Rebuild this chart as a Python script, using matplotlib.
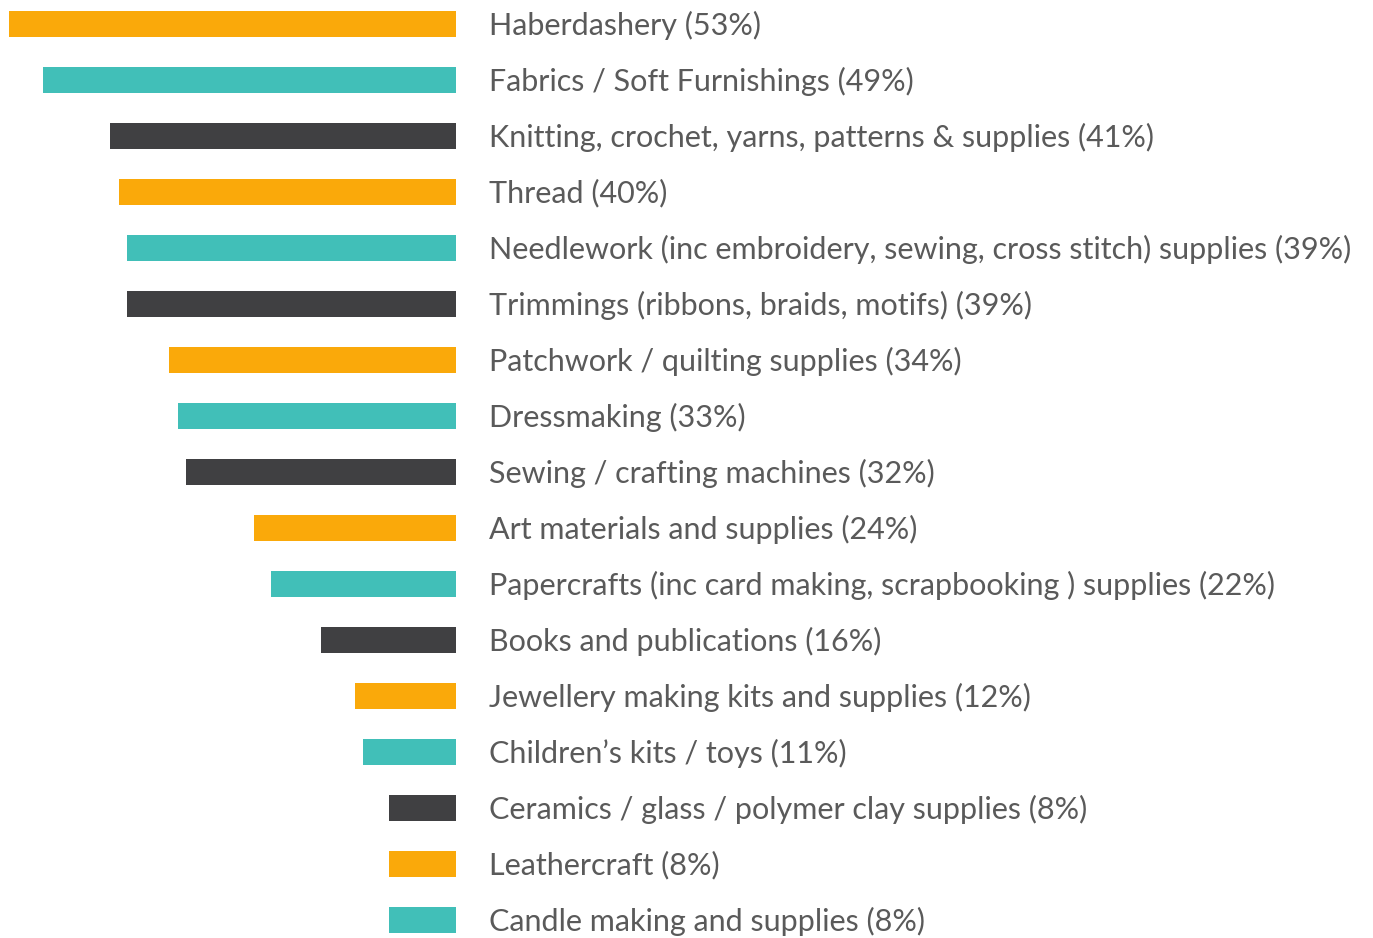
import matplotlib.pyplot as plt

# categories top to bottom with their share (%)
labels = [
    "Haberdashery",
    "Fabrics / Soft Furnishings",
    "Knitting, crochet, yarns, patterns & supplies",
    "Thread",
    "Needlework (inc embroidery, sewing, cross stitch) supplies",
    "Trimmings (ribbons, braids, motifs)",
    "Patchwork / quilting supplies",
    "Dressmaking",
    "Sewing / crafting machines",
    "Art materials and supplies",
    "Papercrafts (inc card making, scrapbooking ) supplies",
    "Books and publications",
    "Jewellery making kits and supplies",
    "Children\u2019s kits / toys",
    "Ceramics / glass / polymer clay supplies",
    "Leathercraft",
    "Candle making and supplies",
]
values = [53, 49, 41, 40, 39, 39, 34, 33, 32, 24, 22, 16, 12, 11, 8, 8, 8]

palette = ["#FAA90A", "#41BFB8", "#404042"]
colors = [palette[i % 3] for i in range(len(values))]

W, H = 1373, 938
fig = plt.figure(figsize=(W / 100, H / 100), dpi=100)
ax = fig.add_axes([0, 0, 1, 1])

px_per_pct = 8.43
x0 = 456  # bar right edge in px
ax.set_xlim(-x0 / px_per_pct, (W - x0) / px_per_pct)
row_px = 56
ax.set_ylim(len(values) - 1 + (H - 24 - row_px * (len(values) - 1)) / row_px, -24 / row_px)

rows = list(range(len(values)))
ax.barh(rows, [-v for v in values], height=26 / row_px, color=colors)

for r, lab, v in zip(rows, labels, values):
    ax.text(33 / px_per_pct, r + 1 / row_px, f"{lab} ({v}%)", va="center", ha="left",
            fontsize=22, color="#5a5a5a", family="Lato")

ax.axis("off")
fig.savefig("out.png", dpi=100)
